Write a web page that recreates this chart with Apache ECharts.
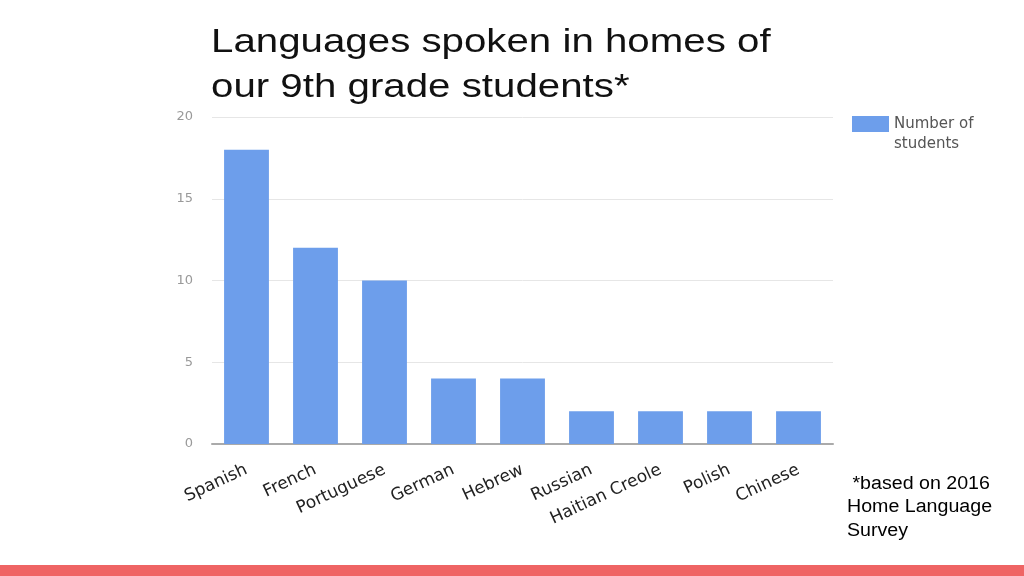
<!DOCTYPE html>
<html>
<head>
<meta charset="utf-8">
<script src="https://cdn.jsdelivr.net/npm/echarts@6/dist/echarts.min.js"></script>
<style>
  html, body { margin: 0; padding: 0; background: #fff; }
  #chart { width: 1024px; height: 576px; }
</style>
</head>
<body>
<div id="chart"></div>
<script>
// 데이터
var languages = ['Spanish', 'French', 'Portuguese', 'German', 'Hebrew', 'Russian', 'Haitian Creole', 'Polish', 'Chinese'];
var students = [18, 12, 10, 4, 4, 2, 2, 2, 2];
var yTicks = [0, 5, 10, 15, 20];

var myChart = echarts.init(document.getElementById('chart'));
var option = {
    backgroundColor: '#ffffff',
    animation: false,
    textStyle: { fontFamily: 'Liberation Sans, Arial, sans-serif' },
    legend: {
        data: ['Number of students'],
        left: 847,
        top: 89,
        icon: 'rect',
        itemWidth: 37,
        itemHeight: 16,
        // 첫 줄을 비워 두어 범례 상자가 첫 글줄과 맞도록
        formatter: function () { return '\nNumber of\nstudents'; },
        textStyle: {
            color: '#555555',
            fontSize: 15,
            lineHeight: 20,
            fontFamily: 'DejaVu Sans'
        }
    },
    grid: {
        left: 212,
        right: 191,
        top: 117,
        bottom: 132
    },
    xAxis: {
        type: 'category',
        data: languages,
        axisLine: { show: true, lineStyle: { color: '#aaaaaa', width: 2 } },
        axisTick: { show: false },
        axisLabel: {
            rotate: 25,
            interval: 0,
            margin: 25,
            fontSize: 17,
            fontFamily: 'DejaVu Sans',
            color: '#222222'
        }
    },
    yAxis: {
        type: 'value',
        min: yTicks[0],
        max: yTicks[yTicks.length - 1],
        interval: 5,
        axisLine: { show: false },
        axisTick: { show: false },
        axisLabel: { color: '#999999', fontSize: 13, fontFamily: 'DejaVu Sans', margin: 19 },
        splitLine: { lineStyle: { color: '#e6e6e6', width: 1 } }
    },
    series: [{
        name: 'Number of students',
        type: 'bar',
        data: students,
        barWidth: '65%',
        itemStyle: { color: '#6d9eeb' }
    }],
    graphic: [
        {
            // 제목 (가로로 늘어난 글꼴)
            type: 'text',
            x: 211,
            y: 20,
            scaleX: 1.22,
            style: {
                text: 'Languages spoken in homes of\nour 9th grade students*',
                fontSize: 33,
                lineHeight: 45,
                fill: '#111111',
                fontFamily: 'Liberation Sans, Arial, sans-serif'
            }
        },
        {
            type: 'text',
            x: 847,
            y: 472,
            scaleX: 1.09,
            style: {
                text: ' *based on 2016\nHome Language\nSurvey',
                fontSize: 18,
                lineHeight: 23.5,
                fill: '#000000',
                fontFamily: 'Liberation Sans, Arial, sans-serif'
            }
        },
        {
            type: 'rect',
            left: 0,
            top: 565,
            shape: { width: 1024, height: 11 },
            style: { fill: '#ef6464' }
        }
    ]
};
myChart.setOption(option);
window.addEventListener('resize', myChart.resize);
</script>
</body>
</html>
